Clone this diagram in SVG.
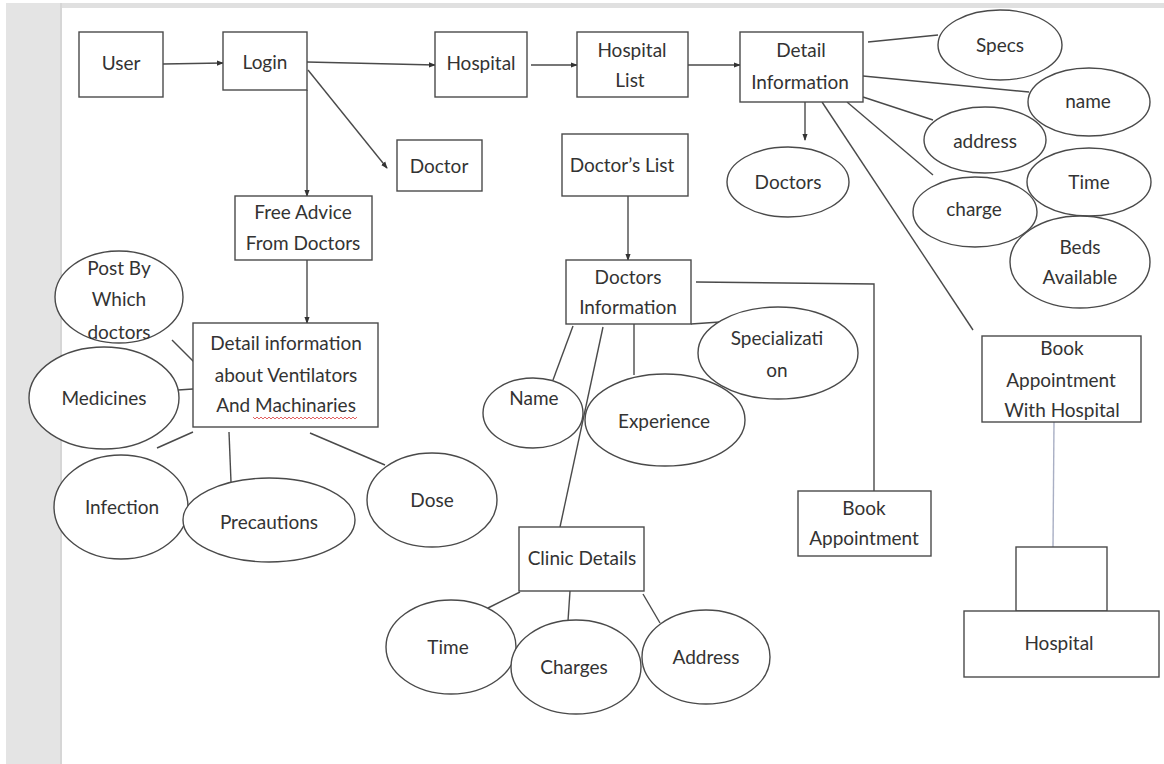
<svg xmlns="http://www.w3.org/2000/svg" width="1164" height="764" viewBox="0 0 1164 764">
<style>
.b{fill:#fff;stroke:#4a4a4a;stroke-width:1.4}
.e{fill:#fff;stroke:#4a4a4a;stroke-width:1.4}
.c{fill:none;stroke:#4a4a4a;stroke-width:1.4}
.t{font-family:Lato,"Open Sans",sans-serif;font-size:19px;fill:#333;text-anchor:middle}
</style>
<defs>
<marker id="ah" viewBox="0 0 8 8" refX="7" refY="4" markerWidth="7" markerHeight="7" markerUnits="userSpaceOnUse" orient="auto">
<path d="M0,1 L8,4 L0,7 Z" fill="#333"/>
</marker>
</defs>
<rect x="0" y="0" width="1164" height="764" fill="#fff"/>
<rect x="6" y="3" width="56" height="761" fill="#e4e4e4"/>
<rect x="60" y="3" width="2" height="761" fill="#d6d6d6"/>
<rect x="62" y="3" width="1102" height="5" fill="#e0e0e0"/>

<g id="connectors">
<line class="c" x1="163" y1="64" x2="223" y2="63" marker-end="url(#ah)"/>
<line class="c" x1="307" y1="62" x2="435" y2="65" marker-end="url(#ah)"/>
<line class="c" x1="531" y1="65" x2="577" y2="65" marker-end="url(#ah)"/>
<line class="c" x1="688" y1="65" x2="740" y2="65" marker-end="url(#ah)"/>
<line class="c" x1="308" y1="70" x2="387" y2="168" marker-end="url(#ah)"/>
<line class="c" x1="307" y1="90" x2="307" y2="196" marker-end="url(#ah)"/>
<line class="c" x1="307" y1="260" x2="307" y2="323" marker-end="url(#ah)"/>
<line class="c" x1="868" y1="42" x2="938" y2="35"/>
<line class="c" x1="863" y1="76" x2="1029" y2="92"/>
<line class="c" x1="863" y1="97" x2="933" y2="120"/>
<line class="c" x1="847" y1="102" x2="933" y2="175"/>
<line class="c" x1="805" y1="102" x2="805" y2="140" marker-end="url(#ah)"/>
<line class="c" x1="822" y1="102" x2="973" y2="330"/>
<line x1="1054" y1="422" x2="1053" y2="547" stroke="#a9afc4" stroke-width="1.4"/>
<line class="c" x1="172" y1="340" x2="195" y2="363"/>
<line class="c" x1="178" y1="390" x2="193" y2="389"/>
<line class="c" x1="193" y1="432" x2="157" y2="448"/>
<line class="c" x1="229" y1="432" x2="231" y2="482"/>
<line class="c" x1="310" y1="433" x2="385" y2="465"/>
<line class="c" x1="628" y1="196" x2="628" y2="260" marker-end="url(#ah)"/>
<polyline class="c" points="696,282 874,284 874,491"/>
<line class="c" x1="691" y1="324" x2="720" y2="322"/>
<line class="c" x1="573" y1="326" x2="553" y2="380"/>
<line class="c" x1="634" y1="324" x2="634" y2="375"/>
<line class="c" x1="603" y1="327" x2="560" y2="527"/>
<line class="c" x1="520" y1="592" x2="488" y2="608"/>
<line class="c" x1="570" y1="591" x2="568" y2="621"/>
<line class="c" x1="643" y1="594" x2="660" y2="623"/>
</g>

<g id="user"><rect class="b" x="79" y="32" width="84" height="65"/><text class="t" x="121" y="70">User</text></g>
<g id="login"><rect class="b" x="223" y="32" width="84" height="58"/><text class="t" x="265" y="69">Login</text></g>
<g id="hospital"><rect class="b" x="435" y="32" width="92" height="65"/><text class="t" x="481" y="70">Hospital</text></g>
<g id="hospital-list"><rect class="b" x="577" y="32" width="111" height="65"/><text class="t" x="632" y="57">Hospital</text><text class="t" x="630" y="87">List</text></g>
<g id="detail-information"><rect class="b" x="740" y="32" width="123" height="70"/><text class="t" x="801" y="57">Detail</text><text class="t" x="800" y="89">Information</text></g>
<g id="specs"><ellipse class="e" cx="1000" cy="45" rx="62" ry="35"/><text class="t" x="1000" y="52">Specs</text></g>
<g id="name"><ellipse class="e" cx="1089" cy="102" rx="61" ry="34"/><text class="t" x="1088" y="108">name</text></g>
<g id="address"><ellipse class="e" cx="985" cy="140" rx="61" ry="33"/><text class="t" x="985" y="148">address</text></g>
<g id="time-h"><ellipse class="e" cx="1089" cy="182" rx="62" ry="34"/><text class="t" x="1089" y="189">Time</text></g>
<g id="charge"><ellipse class="e" cx="975" cy="212" rx="62" ry="35"/><text class="t" x="974" y="216">charge</text></g>
<g id="beds"><ellipse class="e" cx="1080" cy="262" rx="70" ry="46"/><text class="t" x="1080" y="254">Beds</text><text class="t" x="1080" y="284">Available</text></g>
<g id="doctors-h"><ellipse class="e" cx="788" cy="182" rx="61" ry="35"/><text class="t" x="788" y="189">Doctors</text></g>
<g id="book-hospital"><rect class="b" x="982" y="336" width="159" height="86"/><text class="t" x="1062" y="355">Book</text><text class="t" x="1061" y="387">Appointment</text><text class="t" x="1062" y="417">With Hospital</text></g>
<g id="hospital-small"><rect class="b" x="1016" y="547" width="91" height="64"/></g>
<g id="hospital-bottom"><rect class="b" x="964" y="611" width="195" height="66"/><text class="t" x="1059" y="650">Hospital</text></g>
<g id="doctor"><rect class="b" x="397" y="140" width="85" height="51"/><text class="t" x="439" y="173">Doctor</text></g>
<g id="free-advice"><rect class="b" x="235" y="196" width="137" height="64"/><text class="t" x="303" y="219">Free Advice</text><text class="t" x="303" y="250">From Doctors</text></g>
<g id="detail-ventilators"><rect class="b" x="193" y="323" width="185" height="104"/><text class="t" x="286" y="350">Detail information</text><text class="t" x="286" y="382">about Ventilators</text><text class="t" x="286" y="412">And Machinaries</text>
<polyline points="253,417 255,419 257,417 259,419 261,417 263,419 265,417 267,419 269,417 271,419 273,417 275,419 277,417 279,419 281,417 283,419 285,417 287,419 289,417 291,419 293,417 295,419 297,417 299,419 301,417 303,419 305,417 307,419 309,417 311,419 313,417 315,419 317,417 319,419 321,417 323,419 325,417 327,419 329,417 331,419 333,417 335,419 337,417 339,419 341,417 343,419 345,417 347,419 349,417 351,419 353,417 355,419 357,417" fill="none" stroke="#e05050" stroke-width="0.9"/></g>
<g id="post-by"><ellipse class="e" cx="119" cy="297" rx="64" ry="46"/><text class="t" x="119" y="275">Post By</text><text class="t" x="119" y="306">Which</text><text class="t" x="119" y="339">doctors</text></g>
<g id="medicines"><ellipse class="e" cx="104" cy="398" rx="75" ry="51"/><text class="t" x="104" y="405">Medicines</text></g>
<g id="infection"><ellipse class="e" cx="121" cy="507" rx="67" ry="52"/><text class="t" x="122" y="514">Infection</text></g>
<g id="precautions"><ellipse class="e" cx="269" cy="520" rx="86" ry="42"/><text class="t" x="269" y="529">Precautions</text></g>
<g id="dose"><ellipse class="e" cx="432" cy="500" rx="65" ry="47"/><text class="t" x="432" y="507">Dose</text></g>
<g id="doctors-list"><rect class="b" x="562" y="134" width="126" height="62"/><text class="t" x="622" y="172">Doctor’s List</text></g>
<g id="doctors-information"><rect class="b" x="566" y="260" width="125" height="64"/><text class="t" x="628" y="284">Doctors</text><text class="t" x="628" y="314">Information</text></g>
<g id="specialization"><ellipse class="e" cx="778" cy="353" rx="80" ry="46"/><text class="t" x="777" y="345">Specializati</text><text class="t" x="777" y="377">on</text></g>
<g id="name-d"><ellipse class="e" cx="533" cy="413" rx="50" ry="35"/><text class="t" x="534" y="405">Name</text></g>
<g id="experience"><ellipse class="e" cx="665" cy="420" rx="80" ry="46"/><text class="t" x="664" y="428">Experience</text></g>
<g id="book-appointment"><rect class="b" x="798" y="491" width="133" height="65"/><text class="t" x="864" y="515">Book</text><text class="t" x="864" y="545">Appointment</text></g>
<g id="clinic-details"><rect class="b" x="519" y="527" width="125" height="64"/><text class="t" x="582" y="565">Clinic Details</text></g>
<g id="time-c"><ellipse class="e" cx="451" cy="647" rx="65" ry="47"/><text class="t" x="448" y="654">Time</text></g>
<g id="charges"><ellipse class="e" cx="576" cy="667" rx="65" ry="47"/><text class="t" x="574" y="674">Charges</text></g>
<g id="address-c"><ellipse class="e" cx="706" cy="657" rx="64" ry="47"/><text class="t" x="706" y="664">Address</text></g>
</svg>
